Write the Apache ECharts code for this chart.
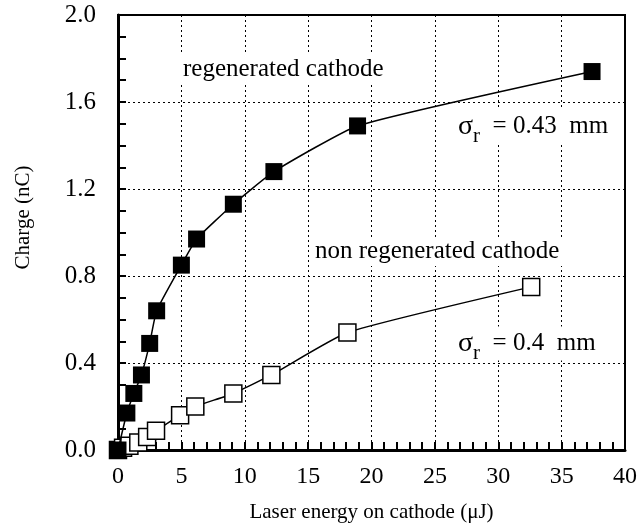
<!DOCTYPE html>
<html>
<head>
<meta charset="utf-8">
<script src="https://cdn.jsdelivr.net/npm/echarts@6/dist/echarts.min.js"></script>
<style>
  html, body { margin: 0; padding: 0; background: #fff; }
  #chart { width: 640px; height: 529px; }
</style>
</head>
<body>
<div id="chart"></div>
<script>
// 读图得到的数据 (x: 激光能量 μJ, y: 电荷 nC)
var regenX = [0, 0.7, 1.25, 1.85, 2.5, 3.05, 5.0, 6.2, 9.1, 12.3, 18.9, 37.4];
var regenY = [0, 0.17, 0.26, 0.345, 0.49, 0.64, 0.85, 0.97, 1.13, 1.28, 1.49, 1.74];
var nonRegenX = [0, 0.4, 0.9, 1.6, 2.3, 3.0, 4.9, 6.1, 9.1, 12.1, 18.1, 32.6];
var nonRegenY = [0, 0.01, 0.02, 0.035, 0.06, 0.088, 0.16, 0.2, 0.26, 0.345, 0.54, 0.75];
var xTicks = [0, 5, 10, 15, 20, 25, 30, 35, 40];
var yTicks = [0.0, 0.4, 0.8, 1.2, 1.6, 2.0];

function pairs(xs, ys) {
    return xs.map(function (x, i) { return [x, ys[i]]; });
}

var font = '"Liberation Serif", "DejaVu Serif", serif';
var chart = echarts.init(document.getElementById('chart'));

var gridLine = { show: true, lineStyle: { color: '#000', type: [2, 3], width: 1 } };

// σ 标注的富文本样式
var sigmaRich = {
    s: { fontSize: 25, fontFamily: font, fill: '#000', lineHeight: 30 },
    g: { fontSize: 28, fontFamily: font, fill: '#000', lineHeight: 30 },
    sub: { fontSize: 21, fontFamily: font, fill: '#000', lineHeight: 30, padding: [20, 0, 0, 0] }
};

chart.setOption({
    animation: false,
    backgroundColor: '#fff',
    textStyle: { fontFamily: font, color: '#000' },
    grid: {
        left: 118, right: 10, top: 15, bottom: 79,
        show: true, borderColor: '#000', borderWidth: 2
    },
    xAxis: {
        type: 'value',
        min: xTicks[0], max: xTicks[xTicks.length - 1], interval: 5,
        name: 'Laser energy on cathode (\u03bcJ)',
        nameLocation: 'middle', nameGap: 52,
        nameTextStyle: { fontSize: 21, fontFamily: font, color: '#000' },
        axisLine: { lineStyle: { color: '#000', width: 3 } },
        axisTick: { inside: true, length: 8, lineStyle: { color: '#000', width: 2 } },
        minorTick: { show: true, splitNumber: 5, length: 8, lineStyle: { color: '#000', width: 2 } },
        axisLabel: { fontSize: 24, fontFamily: font, color: '#000', margin: 15 },
        splitLine: gridLine
    },
    yAxis: {
        type: 'value',
        min: yTicks[0], max: yTicks[yTicks.length - 1], interval: 0.4,
        name: 'Charge (nC)',
        nameLocation: 'middle', nameGap: 84,
        nameTextStyle: { fontSize: 21, fontFamily: font, color: '#000', padding: [0, 0, 0, 30] },
        axisLine: { show: true, lineStyle: { color: '#000', width: 3 } },
        axisTick: { show: true, inside: true, length: 8, lineStyle: { color: '#000', width: 2 } },
        minorTick: { show: true, splitNumber: 4, length: 8, lineStyle: { color: '#000', width: 2 } },
        axisLabel: {
            fontSize: 25, fontFamily: font, color: '#000', margin: 22,
            formatter: function (v) { return v.toFixed(1); }
        },
        splitLine: gridLine
    },
    series: [
        {
            name: 'non regenerated cathode',
            type: 'line',
            data: pairs(nonRegenX, nonRegenY),
            smooth: 0.15,
            symbol: 'rect', symbolSize: 17,
            itemStyle: { color: '#fff', borderColor: '#000', borderWidth: 1.5 },
            lineStyle: { color: '#000', width: 1.5 },
            z: 2
        },
        {
            name: 'regenerated cathode',
            type: 'line',
            data: pairs(regenX, regenY),
            smooth: 0.15,
            symbol: 'rect', symbolSize: 17,
            itemStyle: { color: '#000', borderColor: '#000', borderWidth: 0 },
            lineStyle: { color: '#000', width: 1.5 },
            z: 3
        }
    ],
    graphic: [
        {
            type: 'text', left: 180, top: 55, z: 10,
            style: { text: 'regenerated cathode', font: '25px ' + font, fill: '#000', backgroundColor: '#fff', padding: [2, 3] }
        },
        {
            type: 'text', left: 312, top: 237, z: 10,
            style: { text: 'non regenerated cathode', font: '25px ' + font, fill: '#000', backgroundColor: '#fff', padding: [2, 3] }
        },
        {
            type: 'text', left: 455, top: 106, z: 10,
            style: {
                text: '{g|\u03c3}{sub|r}{s|  = 0.43  mm}',
                backgroundColor: '#fff', padding: [2, 3],
                rich: sigmaRich
            }
        },
        {
            type: 'text', left: 455, top: 323, z: 10,
            style: {
                text: '{g|\u03c3}{sub|r}{s|  = 0.4  mm}',
                backgroundColor: '#fff', padding: [2, 3],
                rich: sigmaRich
            }
        }
    ]
});
</script>
</body>
</html>
